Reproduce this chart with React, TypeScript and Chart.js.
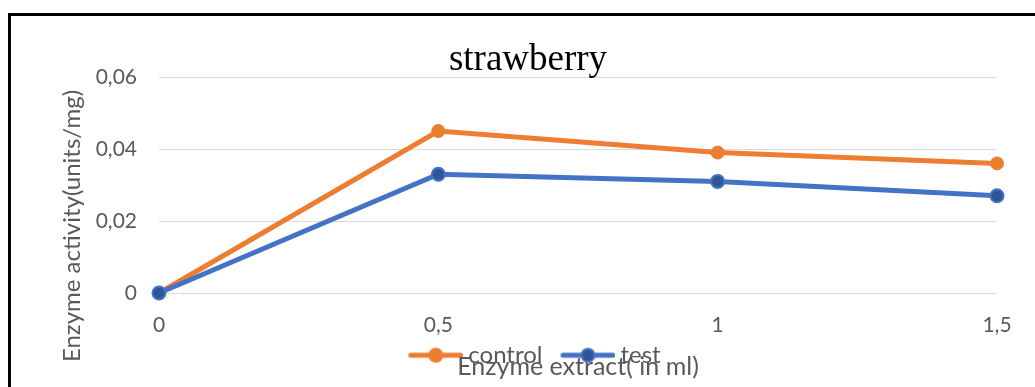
import React, { useEffect, useRef } from "react";
import { Chart, registerables } from "chart.js";

Chart.register(...registerables);

const CHART_TITLE = "strawberry";
const X_TITLE = "Enzyme extract( in ml)";
const Y_TITLE = "Enzyme activity(units/mg)";
const extractMl = [0, 0.5, 1, 1.5];
const controlValues = [0, 0.045, 0.039, 0.036];
const testValues = [0, 0.033, 0.031, 0.027];
const seriesNames = ["control", "test"];

const ORANGE = "#ED7D31";
const BLUE = "#4472C4";
const BLUE_DARK = "#2F5597";
const TEXT = "#595959";
const FONT = "Lato";

const fmt = (v: number) => (v === 0 ? "0" : String(v).replace(".", ","));
const fmtY = (v: number) => (Math.abs(v) < 1e-9 ? "0" : v.toFixed(2).replace(".", ","));

// legend symbol: line with a circle marker, drawn into a small canvas
function legendImage(line: string, fill: string, border: string | null) {
  const c = document.createElement("canvas");
  c.width = 75;
  c.height = 18;
  const g = c.getContext("2d")!;
  g.strokeStyle = line;
  g.lineWidth = 5;
  g.lineCap = "round";
  g.beginPath();
  g.moveTo(22.5, 9);
  g.lineTo(72.5, 9);
  g.stroke();
  g.beginPath();
  g.arc(47.5, 9, border ? 6.5 : 7.5, 0, Math.PI * 2);
  g.fillStyle = fill;
  g.fill();
  if (border) {
    g.lineWidth = 2;
    g.strokeStyle = border;
    g.stroke();
  }
  return c;
}

const axisTitles = {
  id: "axisTitles",
  afterDraw(chart: any) {
    const { ctx, chartArea } = chart;
    ctx.save();
    ctx.fillStyle = TEXT;
    ctx.textAlign = "center";
    ctx.textBaseline = "middle";
    ctx.font = `25px ${FONT}`;
    ctx.fillText(X_TITLE, (chartArea.left + chartArea.right) / 2, chartArea.bottom + 74);
    ctx.font = `24px ${FONT}`;
    ctx.translate(61, (chartArea.top + chartArea.bottom) / 2 + 41);
    ctx.rotate(-Math.PI / 2);
    ctx.fillText(Y_TITLE, 0, 0);
    ctx.restore();
  },
};

export default function App() {
  const ref = useRef<HTMLCanvasElement>(null);
  useEffect(() => {
    let chart: Chart | null = null;
    let cancelled = false;
    const build = () => {
      if (cancelled || !ref.current) return;
      const imgs = [legendImage(ORANGE, ORANGE, null), legendImage(BLUE, BLUE_DARK, BLUE)];
      chart = new Chart(ref.current, {
        type: "line",
        data: {
          datasets: [
            {
              label: seriesNames[0],
              data: extractMl.map((x, i) => ({ x, y: controlValues[i] })),
              borderColor: ORANGE,
              backgroundColor: ORANGE,
              pointBackgroundColor: ORANGE,
              pointBorderColor: ORANGE,
              borderWidth: 5,
              pointRadius: 6.5,
              pointBorderWidth: 1,
              order: 1,
              clip: false,
            },
            {
              label: seriesNames[1],
              data: extractMl.map((x, i) => ({ x, y: testValues[i] })),
              borderColor: BLUE,
              backgroundColor: BLUE,
              pointBackgroundColor: BLUE_DARK,
              pointBorderColor: BLUE,
              borderWidth: 5,
              pointRadius: 6.5,
              pointBorderWidth: 2,
              order: 0,
              clip: false,
            },
          ],
        },
        options: {
          animation: false,
          responsive: false,
          maintainAspectRatio: false,
          layout: { padding: { left: 48, right: 38, top: 27.7, bottom: 9.8 } },
          plugins: {
            title: {
              display: true,
              text: CHART_TITLE,
              color: "#000",
              font: { family: "Liberation Serif", size: 37, weight: "normal", lineHeight: 0.9 },
              padding: { top: 0, bottom: 0 },
            },
            legend: {
              position: "bottom",
              labels: {
                usePointStyle: true,
                pointStyleWidth: 61,
                padding: 5,
                color: TEXT,
                font: { family: FONT, size: 24 },
                generateLabels: () =>
                  seriesNames.map((name, i) => ({
                    text: name,
                    pointStyle: imgs[i] as any,
                    fillStyle: "transparent",
                    strokeStyle: "transparent",
                    lineWidth: 0,
                    fontColor: TEXT,
                    datasetIndex: i,
                    hidden: false,
                  })),
              },
            },
            tooltip: { enabled: false },
          },
          scales: {
            x: {
              type: "linear",
              min: 0,
              max: 1.5,
              afterFit: (s: any) => {
                s.height = 45.2;
              },
              ticks: {
                stepSize: 0.5,
                padding: 20,
                color: TEXT,
                font: { family: FONT, size: 21 },
                callback: (v: any) => fmt(Number(v)),
              },
              grid: { display: false, drawTicks: false },
              border: { display: false },
            },
            y: {
              min: 0,
              max: 0.06,
              afterFit: (s: any) => {
                s.width = 100;
              },
              ticks: {
                stepSize: 0.02,
                padding: 22,
                color: TEXT,
                font: { family: FONT, size: 21 },
                callback: (v: any) => fmtY(Number(v)),
              },
              grid: { color: "#D9D9D9", lineWidth: 1, drawTicks: false },
              border: { display: false },
            },
          },
        },
        plugins: [axisTitles],
      });
    };
    const fontsReady = (document as any).fonts
      ? Promise.all([
          (document as any).fonts.load(`24px ${FONT}`),
          (document as any).fonts.load(`37px "Liberation Serif"`),
        ]).catch(() => null)
      : Promise.resolve(null);
    fontsReady.then(build);
    return () => {
      cancelled = true;
      if (chart) chart.destroy();
    };
  }, []);
  return (
    <div
      style={{
        position: "fixed",
        left: 8,
        top: 13,
        width: 1024,
        height: 371,
        borderTop: "3px solid #000",
        borderLeft: "3px solid #000",
        background: "#fff",
      }}
    >
      <canvas ref={ref} width={1024} height={371} style={{ display: "block", width: 1024, height: 371 }} />
    </div>
  );
}
